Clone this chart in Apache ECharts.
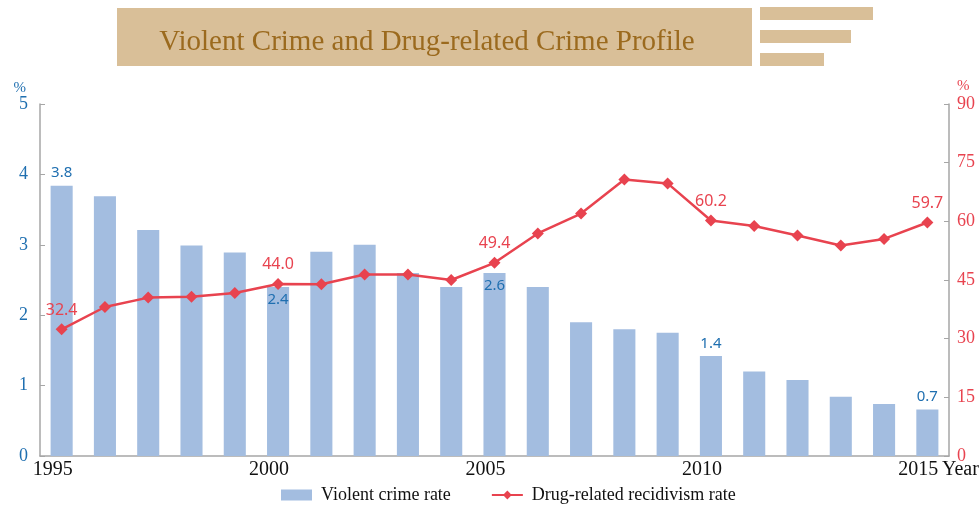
<!DOCTYPE html>
<html>
<head>
<meta charset="utf-8">
<script src="https://cdn.jsdelivr.net/npm/echarts@6/dist/echarts.min.js"></script>
<style>html,body{margin:0;padding:0;background:#fff}#c{width:979px;height:506px}</style>
</head>
<body>
<div id="c"></div>
<script>
const years = ['1995','1996','1997','1998','1999','2000','2001','2002','2003','2004','2005','2006','2007','2008','2009','2010','2011','2012','2013','2014','2015'];
const violentRate = [3.84,3.69,3.21,2.99,2.89,2.4,2.9,3.0,2.6,2.4,2.6,2.4,1.9,1.8,1.75,1.42,1.2,1.08,0.84,0.74,0.66];
const recidivismRate = [32.4,38.1,40.5,40.7,41.7,44.0,43.9,46.4,46.4,45.0,49.4,56.9,62.0,70.7,69.7,60.2,58.8,56.4,53.8,55.5,59.7];
const labeledIdx = [0,5,10,15,20];
const barLabelPos = {0:'top',5:'insideTop',10:'insideTop',15:'top',20:'top'};
const leftTicks = [0,1,2,3,4,5];
const rightTicks = [0,15,30,45,60,75,90];

const chart = echarts.init(document.getElementById('c'));
const serif = 'Liberation Serif';
const blue = '#1f6fb0', red = '#e8434f', gray = '#a6a6a6';

const barData = violentRate.map((v,i)=> labeledIdx.includes(i)
  ? {value:v,label:{show:true,position:barLabelPos[i],distance:5}} : v);
const lineData = recidivismRate.map((v,i)=> labeledIdx.includes(i)
  ? {value:v,label:{show:true,position:'top',distance:5}} : v);

chart.setOption({
  animation:false,
  graphic:[
    {type:'rect',shape:{x:117,y:8,width:635,height:58},style:{fill:'#d9bf98'}},
    {type:'text',x:427,y:42,style:{text:'Violent Crime and Drug-related Crime Profile',font:'29px "Liberation Serif"',fill:'#9b6a1e',align:'center',verticalAlign:'middle'}},
    {type:'rect',shape:{x:760,y:7,width:113,height:13},style:{fill:'#d9bf98'}},
    {type:'rect',shape:{x:760,y:30,width:91,height:13},style:{fill:'#d9bf98'}},
    {type:'rect',shape:{x:760,y:53,width:64,height:13},style:{fill:'#d9bf98'}}
  ],
  grid:{left:40,right:30,top:104,bottom:50,containLabel:false,outerBoundsMode:'none'},
  legend:{
    bottom:-3,left:276,itemWidth:31,itemHeight:11,itemGap:40,
    textStyle:{fontFamily:serif,fontSize:18,color:'#111',padding:[0,0,0,4]},
    data:[{name:'Violent crime rate',icon:'rect'},{name:'Drug-related recidivism rate'}]
  },
  xAxis:{
    type:'category',data:years,boundaryGap:true,
    axisLine:{lineStyle:{color:gray,width:1.5}},
    axisTick:{inside:true,length:5,lineStyle:{color:gray}},
    axisLabel:{interval:(i)=>i%5===0,color:'#111',fontFamily:serif,fontSize:20,margin:4,padding:[0,18,0,0]},
    name:'Year',nameLocation:'end',nameGap:-7,nameMoveOverlap:false,
    nameTextStyle:{fontFamily:serif,fontSize:20,color:'#111',align:'left',verticalAlign:'top',padding:[4,0,0,0]}
  },
  yAxis:[
    {type:'value',min:0,max:5,interval:1,
     axisLine:{show:true,lineStyle:{color:gray,width:1.5}},
     axisTick:{show:true,inside:true,length:5,lineStyle:{color:gray}},
     splitLine:{show:false},
     axisLabel:{color:blue,fontFamily:serif,fontSize:18,margin:12},
     name:'%',nameLocation:'end',nameGap:8,
     nameTextStyle:{color:blue,fontFamily:serif,fontSize:15,align:'right',padding:[0,14,0,0]}
    },
    {type:'value',min:0,max:90,interval:15,position:'right',
     axisLine:{show:true,lineStyle:{color:gray,width:1.5}},
     axisTick:{show:true,inside:true,length:5,lineStyle:{color:gray}},
     splitLine:{show:false},
     axisLabel:{color:red,fontFamily:serif,fontSize:18,margin:8},
     name:'%',nameLocation:'end',nameGap:10,
     nameTextStyle:{color:red,fontFamily:serif,fontSize:15,align:'left',padding:[0,0,0,8]}
    }
  ],
  series:[
    {name:'Violent crime rate',type:'bar',yAxisIndex:0,barWidth:'51%',
     itemStyle:{color:'#a3bde0'},
     label:{show:false,color:blue,fontFamily:'Noto Sans',fontSize:15,formatter:(p)=>p.value.toFixed(1)},
     data:barData},
    {name:'Drug-related recidivism rate',type:'line',yAxisIndex:1,
     symbol:'diamond',symbolSize:12,
     lineStyle:{color:red,width:2.5},itemStyle:{color:red},
     label:{show:false,color:red,fontFamily:'Noto Sans',fontSize:16,formatter:(p)=>p.value.toFixed(1)},
     data:lineData}
  ]
});
</script>
</body>
</html>
